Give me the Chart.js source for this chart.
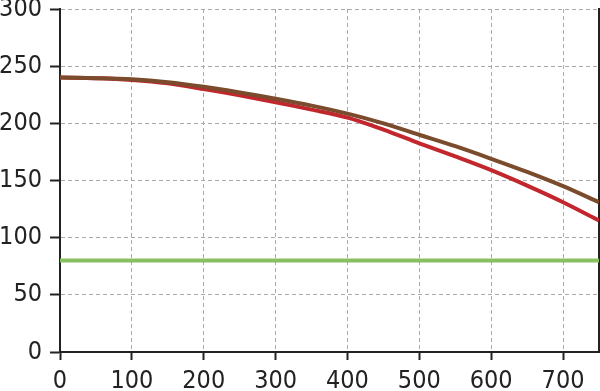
<!DOCTYPE html>
<html>
<head>
<meta charset="utf-8">
<script src="https://cdn.jsdelivr.net/npm/chart.js@4"></script>
<style>
  html, body { margin: 0; padding: 0; background: #fff; }
  #wrap { width: 600px; height: 391px; }
</style>
</head>
<body>
<div id="wrap"><canvas id="myChart"></canvas></div>
<script>
var xValues = [0, 50, 100, 150, 200, 250, 300, 350, 400, 450, 500, 550, 600, 650, 700, 750];
var brownValues = [240, 239.5, 238.5, 236, 232, 227, 221.5, 215.5, 208.5, 200, 190, 180, 169, 157.5, 145, 131];
var redValues = [240, 239.5, 238, 235, 230, 224.5, 218.5, 212, 205, 194.5, 182.5, 171, 159, 145.5, 131, 115];
var greenValues = [80, 80, 80, 80, 80, 80, 80, 80, 80, 80, 80, 80, 80, 80, 80, 80];
var yTicks = [0, 50, 100, 150, 200, 250, 300];
var xTicks = [0, 100, 200, 300, 400, 500, 600, 700];

function pts(ys) {
    return xValues.map(function (x, i) { return {x: x, y: ys[i]}; });
}

var axisFont = {family: "'DejaVu Sans Condensed', sans-serif", size: 25, lineHeight: 0.72};

const myChart = new Chart("myChart", {
    type: "line",
    data: {
        datasets: [
            {data: pts(greenValues), borderColor: "#88c060", borderWidth: 4, pointRadius: 0, tension: 0},
            {data: pts(brownValues), borderColor: "#7a4b2c", borderWidth: 4, pointRadius: 0, tension: 0.3},
            {data: pts(redValues), borderColor: "#c1272d", borderWidth: 4, pointRadius: 0, tension: 0.3}
        ]
    },
    options: {
        responsive: true,
        maintainAspectRatio: false,
        animation: false,
        layout: {padding: {top: 9, right: 1, left: 0, bottom: 0}},
        plugins: {legend: {display: false}, tooltip: {enabled: false}},
        scales: {
            x: {
                type: "linear",
                min: 0,
                max: 750,
                afterBuildTicks: function (ax) {
                    ax.ticks = xTicks.concat([750]).map(function (v) { return {value: v}; });
                },
                ticks: {
                    color: "#222",
                    font: axisFont,
                    padding: 12,
                    maxRotation: 0,
                    callback: function (v) { return v === 750 ? null : String(v); }
                },
                grid: {color: "#aaa", lineWidth: 1, tickColor: "#222", tickLength: 8, tickWidth: 2},
                border: {color: "#222", width: 2, dash: [4, 3]},
                afterFit: function (ax) { ax.height = 39; ax.paddingLeft = 0; ax.paddingRight = 0; }
            },
            y: {
                min: 0,
                max: 300,
                afterBuildTicks: function (ax) {
                    ax.ticks = yTicks.map(function (v) { return {value: v}; });
                },
                ticks: {color: "#222", font: axisFont, padding: 8},
                grid: {color: "#aaa", lineWidth: 1, tickColor: "#222", tickLength: 10, tickWidth: 2},
                border: {color: "#222", width: 2, dash: [4, 3]},
                afterFit: function (ax) { ax.width = 60; ax.paddingTop = 0; ax.paddingBottom = 0; }
            },
            y2: {
                position: "right",
                min: 0,
                max: 300,
                ticks: {display: false},
                grid: {drawOnChartArea: false, drawTicks: false},
                border: {color: "#222", width: 2},
                afterFit: function (ax) { ax.width = 0; ax.paddingTop = 0; ax.paddingBottom = 0; }
            }
        }
    }
});
</script>
</body>
</html>
